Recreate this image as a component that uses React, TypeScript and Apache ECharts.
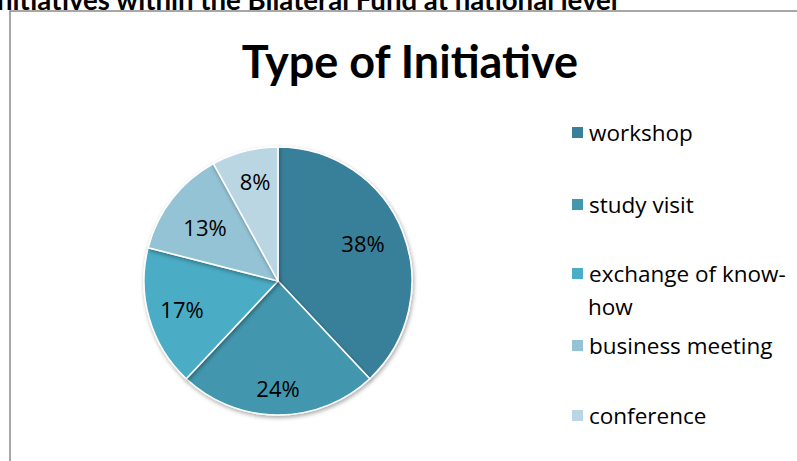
import React, { useEffect, useRef } from "react";
import * as echarts from "echarts";

const categories = ["workshop", "study visit", "exchange of know-how", "business meeting", "conference"];
const values = [38, 24, 17, 13, 8];
const colors = ["#37809A", "#4297AE", "#4BACC6", "#93C3D5", "#BAD6E2"];
const legendTops = [121, 193, 262, 334, 404];
const labelNudges: [number, number][] = [[-8, -1], [0, 7], [0, 0], [6, 7], [2, -3]];
const titleText = "Type of Initiative";
const headerText = "nitiatives within the Bilateral Fund at national level";

export default function App() {
  const ref = useRef<HTMLDivElement>(null);
  useEffect(() => {
    const chart = echarts.init(ref.current!, null, { renderer: "svg" });
    const data = categories.map((name, i) => ({ name, value: values[i], itemStyle: { color: colors[i] } }));
    const option: any = {
      animation: false,
      backgroundColor: "#ffffff",
      title: {
        text: titleText,
        left: 405,
        top: 33,
        textAlign: "center",
        textStyle: { fontFamily: "Lato", fontWeight: "bold", fontSize: 45, color: "#000" },
      },
      legend: categories.map((name, i) => ({
        data: [name],
        orient: "vertical",
        left: 570,
        top: legendTops[i],
        padding: 0,
        itemWidth: 13,
        itemHeight: 13,
        icon: "rect",
        selectedMode: false,
        formatter: (n: string) => (n === "exchange of know-how" ? "exchange of know-" : n),
        textStyle: { fontFamily: "Open Sans", fontSize: 22.5, color: "#000" },
      })),
      graphic: [
        {
          type: "rect",
          shape: { x: 10, y: 11, width: 900, height: 600 },
          style: { fill: "none", stroke: "#8a8a8a", lineWidth: 1.5 },
          silent: true,
        },
        {
          type: "text",
          x: -3,
          y: -14.5,
          style: { text: headerText, fontFamily: "Lato", fontWeight: "bold", fontSize: 27.6, fill: "#000" },
          silent: true,
        },
        {
          type: "text",
          x: 588,
          y: 295,
          style: { text: "how", fontFamily: "Open Sans", fontSize: 22.5, fill: "#000" },
          silent: true,
        },
      ],
      series: [
        {
          type: "pie",
          center: [278, 281],
          radius: [0, 134],
          startAngle: 90,
          clockwise: true,
          data,
          label: { show: false },
          labelLine: { show: false },
          itemStyle: {
            borderColor: "#ffffff",
            borderWidth: 1.5,
            shadowBlur: 4,
            shadowOffsetX: 1,
            shadowOffsetY: 2,
            shadowColor: "rgba(0,0,0,0.35)",
          },
          emphasis: { disabled: true },
        },
        {
          type: "pie",
          center: [278, 281],
          radius: [0, 194],
          startAngle: 90,
          clockwise: true,
          silent: true,
          data: categories.map((name, i) => ({
            name,
            value: values[i],
            label: { offset: labelNudges[i] },
          })),
          itemStyle: { color: "transparent", borderWidth: 0 },
          label: {
            show: true,
            position: "inside",
            formatter: (p: any) => `${p.value}%`,
            fontFamily: "Open Sans",
            fontSize: 22,
            color: "#000",
          },
          labelLine: { show: false },
          emphasis: { disabled: true },
          legendHoverLink: false,
        },
      ],
    };
    chart.setOption(option);
    return () => chart.dispose();
  }, []);
  return <div ref={ref} style={{ position: "fixed", left: 0, top: 0, width: 797, height: 461 }} />;
}
